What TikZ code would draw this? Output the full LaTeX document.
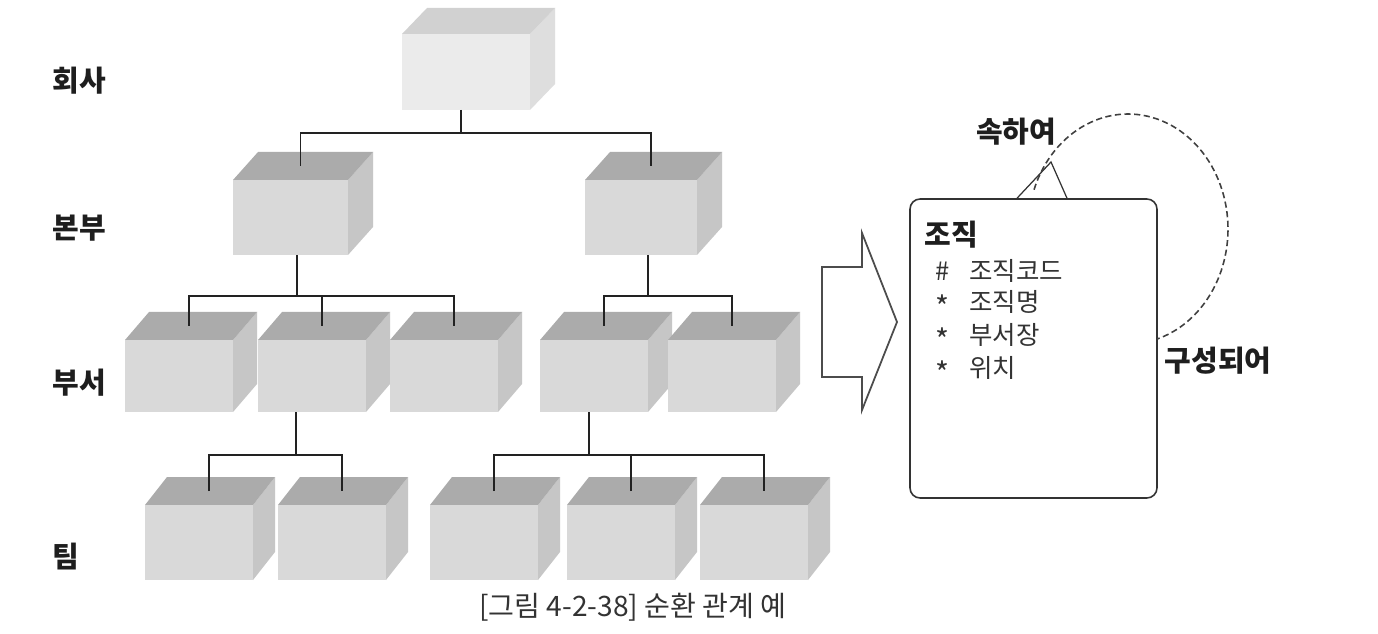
\documentclass[tikz,border=0pt]{standalone}
\usepackage{fontspec}
\setmainfont{Noto Sans CJK KR}
\usetikzlibrary{calc}
\definecolor{cfrontc}{HTML}{D9D9D9}
\definecolor{ctopc}{HTML}{ABABAB}
\definecolor{csidec}{HTML}{C6C6C6}
\definecolor{linec}{HTML}{222222}
\definecolor{txtc}{HTML}{1E1E1E}
\definecolor{attrc}{HTML}{333333}
\tikzset{
  cubefront/.style={fill=cfrontc},
  cubetop/.style={fill=ctopc},
  cubeside/.style={fill=csidec},
  conn/.style={draw=linec, line width=1.1pt},
  lbl/.style={font=\fontsize{16.5pt}{19pt}\selectfont\bfseries, text=txtc, inner sep=0pt},
  attr/.style={font=\fontsize{14.5pt}{17pt}\selectfont, text=attrc, inner sep=0pt, anchor=west},
  entity/.style={draw=attrc, line width=0.9pt, rounded corners=0.2cm, minimum width=4.94cm, minimum height=5.98cm, inner sep=0pt},
  bigarrow/.style={draw=black!70, line width=1pt, fill=white},
}
% #1 name, #2 x, #3 bottom y, #4 w, #5 h, #6 dx, #7 dy, #8 stem offset
\newcommand\mycube[8]{%
  \path[cubeside] (#2+#4,#3) -- (#2+#4,#3-#5) -- (#2+#4+#6,#3-#5-#7) -- (#2+#4+#6,#3-#7) -- cycle;
  \path[cubetop] (#2,#3-#5) -- (#2+#6,#3-#5-#7) -- (#2+#4+#6,#3-#5-#7) -- (#2+#4,#3-#5) -- cycle;
  \path[cubefront] (#2,#3) rectangle (#2+#4,#3-#5);
  \coordinate (#1-t) at (#2+#4/2+10,#3-#5-#7/2);
  \coordinate (#1-b) at (#2+#8,#3);
}
\begin{document}
\begin{tikzpicture}[x=0.02cm,y=-0.02cm]
\useasboundingbox[fill=white] (0,0) rectangle (1378,634);

% cubes
\begin{scope}[cubefront/.style={fill=black!8}, cubetop/.style={fill=black!18}, cubeside/.style={fill=black!13}]
\mycube{c0}{402}{110}{128}{76}{25}{26}{59}
\end{scope}
\mycube{b1}{233}{255}{115}{75}{25}{28}{64}
\mycube{b2}{585}{255}{112}{75}{25}{28}{63}
\mycube{d1}{125}{412}{108}{72}{24}{28}{54}
\mycube{d2}{258}{412}{108}{72}{24}{28}{38}
\mycube{d3}{390}{412}{108}{72}{24}{28}{54}
\mycube{d4}{540}{412}{108}{72}{24}{28}{49}
\mycube{d5}{668}{412}{108}{72}{24}{28}{54}
\mycube{e1}{145}{580}{108}{75}{22}{28}{54}
\mycube{e2}{278}{580}{108}{75}{22}{28}{54}
\mycube{e3}{430}{580}{108}{75}{22}{28}{54}
\mycube{e4}{567}{580}{108}{75}{22}{28}{54}
\mycube{e5}{700}{580}{108}{75}{22}{28}{54}

% bus levels
\coordinate (bus1) at (0,133);
\coordinate (bus2) at (0,296);
\coordinate (bus3) at (0,455);

% connectors
\draw[conn] (c0-b) -- (c0-b |- bus1);
\draw[conn] (b1-t) |- (c0-b |- bus1) -| (b2-t);
\draw[conn] (b1-b) -- (b1-b |- bus2);
\draw[conn] (d1-t) |- (b1-b |- bus2) -| (d3-t);
\draw[conn] (d2-t) -- (d2-t |- bus2);
\draw[conn] (b2-b) -- (b2-b |- bus2);
\draw[conn] (d4-t) |- (b2-b |- bus2) -| (d5-t);
\draw[conn] (d2-b) -- (d2-b |- bus3);
\draw[conn] (e1-t) |- (d2-b |- bus3) -| (e2-t);
\draw[conn] (d4-b) -- (d4-b |- bus3);
\draw[conn] (e3-t) |- (d4-b |- bus3) -| (e5-t);
\draw[conn] (e4-t) -- (e4-t |- bus3);

% level labels
\node[lbl, anchor=west] (lv1) at (52,81) {회사};
\node[lbl, anchor=west] (lv2) at (52,228) {본부};
\node[lbl, anchor=west] (lv3) at (52,383) {부서};
\node[lbl, anchor=west] (lv4) at (52,557) {팀};

% big arrow
\draw[bigarrow] (822,267) -- (862,267) -- (862,233) -- (897,322) -- (862,410) -- (862,377) -- (822,377) -- cycle;

% entity
\node[entity] (org) at (1033.5,348.5) {};
\node[lbl, anchor=west] (title) at (924,235) {조직};
\node[attr] (m1) at (935,271) {\#};
\node[attr, font=\fontsize{17pt}{17pt}\selectfont] (m2) at (935,307) {*};
\node[attr, font=\fontsize{17pt}{17pt}\selectfont] (m3) at (935,340) {*};
\node[attr, font=\fontsize{17pt}{17pt}\selectfont] (m4) at (935,373) {*};
\node[attr] (a1) at (969,271) {조직코드};
\node[attr] (a2) at (969,302) {조직명};
\node[attr] (a3) at (969,335) {부서장};
\node[attr] (a4) at (969,368) {위치};

% crow's foot and recursive relation
\coordinate (cf) at (1051,162);
\coordinate (cfL) at (org.north -| 1017,0);
\coordinate (cfR) at (org.north -| 1067,0);
\draw[draw=attrc, line width=0.7pt] (cfL) -- (cf) -- (cfR);
\coordinate (rs) at (1034,189.7);
\draw[draw=black!75, line width=0.9pt, dash pattern=on 3.5pt off 2pt] (rs) arc[start angle=200, end angle=433, x radius=100, y radius=115] coordinate (re);
\node[lbl] (r1) at (1016,132) {속하여};
\node[lbl] (r2) at (1218,361) {구성되어};

% caption
\node[font=\fontsize{16pt}{19pt}\selectfont, text=attrc, inner sep=0pt] (cap) at (633,607) {[그림 4-2-38] 순환 관계 예};
\end{tikzpicture}
\end{document}
